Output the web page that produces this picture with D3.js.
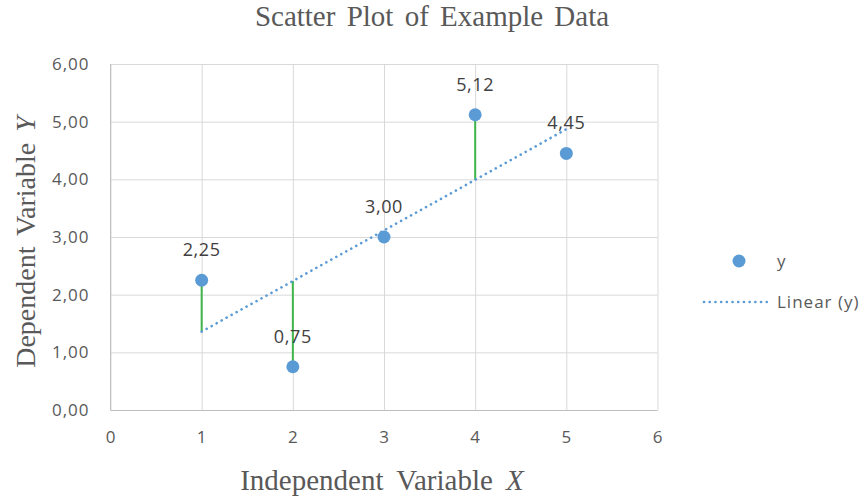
<!DOCTYPE html>
<html lang="en">
<head>
<meta charset="UTF-8">
<title>Scatter Plot of Example Data</title>
<style>
  * {padding:0; margin:0;}
  body {background:#fff;}
  #chart {display:block;}
  .tick text {font-family:"Open Sans", "Noto Sans", sans-serif; font-size:17px; fill:#595959; letter-spacing:1px;}
  .grid line {stroke:#d9d9d9; stroke-width:1px;}
  .grid path {display:none;}
  .title, .axisTitle {font-family:"Liberation Serif", "DejaVu Serif", serif; fill:#595959;}
  .label {font-family:"Open Sans", "Noto Sans", sans-serif; font-size:18px; fill:#404040; text-anchor:middle; letter-spacing:0.6px;}
  .legend text {font-family:"Open Sans", "Noto Sans", sans-serif; font-size:17px; fill:#595959; letter-spacing:1px;}
</style>
</head>
<body>
<script src="https://cdn.jsdelivr.net/npm/d3@7"></script>
<svg id="chart" width="866" height="501"></svg>
<script>
// data
var xValues = [1, 2, 3, 4, 5];
var yValues = [2.25, 0.75, 3.00, 5.12, 4.45];
var residualPoints = [1, 2, 4];   // x values that get a green residual line
var xTicks = [0, 1, 2, 3, 4, 5, 6];
var yTicks = [0, 1, 2, 3, 4, 5, 6];

var blue = "#5b9bd5";
var green = "#3fb54b";

var svg = d3.select("#chart");
var plot = {left:110.5, right:657.5, top:64, bottom:410};

var x = d3.scaleLinear().domain([0, 6]).range([plot.left, plot.right]);
var y = d3.scaleLinear().domain([0, 6]).range([plot.bottom, plot.top]);

var loc = d3.formatLocale({decimal:",", thousands:".", grouping:[3], currency:["", ""]});
var fmt = loc.format(".2f");

// grid lines
svg.append("g").attr("class", "grid")
  .attr("transform", "translate(0," + plot.bottom + ")")
  .call(d3.axisBottom(x).tickValues(xTicks).tickSize(-(plot.bottom - plot.top)).tickFormat(""));
svg.append("g").attr("class", "grid")
  .attr("transform", "translate(" + plot.left + ",0)")
  .call(d3.axisLeft(y).tickValues(yTicks).tickSize(-(plot.right - plot.left)).tickFormat(""));

// bottom and left axis lines a bit darker
svg.append("line").attr("x1", plot.left).attr("x2", plot.right)
  .attr("y1", plot.bottom + 0.5).attr("y2", plot.bottom + 0.5)
  .attr("stroke", "#bfbfbf").attr("stroke-width", 1);
svg.append("line").attr("x1", plot.left).attr("x2", plot.left)
  .attr("y1", plot.top).attr("y2", plot.bottom)
  .attr("stroke", "#bfbfbf").attr("stroke-width", 1);

// tick labels
var xAxis = svg.append("g")
  .attr("transform", "translate(0," + plot.bottom + ")")
  .call(d3.axisBottom(x).tickValues(xTicks).tickSize(0).tickPadding(21).tickFormat(d3.format("d")));
xAxis.select(".domain").remove();

var yAxis = svg.append("g")
  .attr("transform", "translate(" + plot.left + ",0)")
  .call(d3.axisLeft(y).tickValues(yTicks).tickSize(0).tickPadding(21).tickFormat(fmt));
yAxis.select(".domain").remove();

// linear trendline (least squares)
var mx = d3.mean(xValues), my = d3.mean(yValues);
var sxy = d3.sum(xValues, function(d, i){ return (d - mx) * (yValues[i] - my); });
var sxx = d3.sum(xValues, function(d){ return (d - mx) * (d - mx); });
var slope = sxy / sxx;
var intercept = my - slope * mx;
function trend(v){ return intercept + slope * v; }

// residual lines
svg.selectAll(".resid")
  .data(residualPoints)
  .enter().append("line")
  .attr("class", "resid")
  .attr("x1", function(d){ return x(d); })
  .attr("x2", function(d){ return x(d); })
  .attr("y1", function(d){ return y(yValues[xValues.indexOf(d)]); })
  .attr("y2", function(d){ return y(trend(d)); })
  .attr("stroke", green).attr("stroke-width", 2);

var xMin = d3.min(xValues), xMax = d3.max(xValues);
svg.append("line")
  .attr("x1", x(xMin)).attr("y1", y(trend(xMin)))
  .attr("x2", x(xMax)).attr("y2", y(trend(xMax)))
  .attr("stroke", blue).attr("stroke-width", 2.6)
  .attr("stroke-dasharray", "0.1,5.6").attr("stroke-linecap", "round");

// points
svg.selectAll(".dot")
  .data(xValues)
  .enter().append("circle")
  .attr("class", "dot")
  .attr("cx", function(d){ return x(d); })
  .attr("cy", function(d, i){ return y(yValues[i]); })
  .attr("r", 6.5)
  .attr("fill", blue);

// data labels
svg.selectAll(".label")
  .data(xValues)
  .enter().append("text")
  .attr("class", "label")
  .attr("x", function(d){ return x(d); })
  .attr("y", function(d, i){ return y(yValues[i]) - 24; })
  .text(function(d, i){ return fmt(yValues[i]); });

// title
svg.append("text").attr("class", "title")
  .attr("x", 432).attr("y", 26)
  .attr("text-anchor", "middle").attr("font-size", 29)
  .attr("word-spacing", 4)
  .text("Scatter Plot of Example Data");

// axis titles
var xt = svg.append("text").attr("class", "axisTitle")
  .attr("x", 382).attr("y", 490)
  .attr("text-anchor", "middle").attr("font-size", 29)
  .attr("word-spacing", 6);
xt.append("tspan").text("Independent Variable ");
xt.append("tspan").attr("font-style", "italic").text("X");

var yt = svg.append("text").attr("class", "axisTitle")
  .attr("transform", "translate(35,242) rotate(-90)")
  .attr("text-anchor", "middle").attr("font-size", 28)
  .attr("word-spacing", 4);
yt.append("tspan").text("Dependent Variable ");
yt.append("tspan").attr("font-style", "italic").text("Y");

// legend
var legend = svg.append("g").attr("class", "legend");
legend.append("circle").attr("cx", 739).attr("cy", 261).attr("r", 6.5).attr("fill", blue);
legend.append("text").attr("x", 777).attr("y", 267).text("y");
legend.append("line").attr("x1", 704).attr("x2", 770).attr("y1", 302).attr("y2", 302)
  .attr("stroke", blue).attr("stroke-width", 2.6)
  .attr("stroke-dasharray", "0.1,5.6").attr("stroke-linecap", "round");
legend.append("text").attr("x", 777).attr("y", 308).text("Linear (y)");
</script>
</body>
</html>
